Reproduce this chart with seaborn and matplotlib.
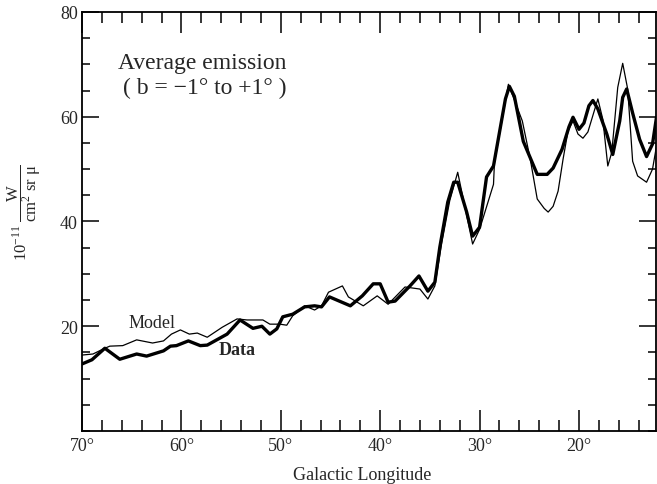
import matplotlib
matplotlib.use("Agg")
import matplotlib.pyplot as plt
import seaborn as sns
import pandas as pd
from matplotlib.ticker import MultipleLocator, FuncFormatter, FixedLocator

sns.set_theme(style="ticks")
plt.rcParams['font.family'] = ['Liberation Serif', 'DejaVu Serif']
plt.rcParams['mathtext.fontset'] = 'custom'
plt.rcParams['mathtext.rm'] = 'Liberation Serif'
plt.rcParams['mathtext.it'] = 'Liberation Serif:italic'

# Data (thick line)
data_lon = [70.0, 69.0, 67.7, 66.2, 64.5, 63.5, 61.8, 61.1, 60.5, 59.3, 58.1, 57.4,
            55.4, 54.1, 52.8, 51.9, 51.1, 50.4, 49.8, 48.8, 47.6, 46.6, 45.9, 45.1,
            43.0, 41.8, 40.7, 40.0, 39.2, 38.5, 37.0, 36.1, 35.2, 34.5, 34.0, 33.2,
            32.6, 32.2, 31.3, 30.7, 30.0, 29.3, 28.6, 27.4, 27.0, 26.5, 25.6, 24.2,
            23.2, 22.6, 21.7, 21.0, 20.6, 20.0, 19.5, 19.0, 18.6, 18.1, 17.2, 16.6,
            15.9, 15.6, 15.2, 14.6, 13.9, 13.2, 12.6, 12.2]
data_val = [12.8, 13.6, 15.8, 13.7, 14.7, 14.3, 15.3, 16.2, 16.3, 17.2, 16.3, 16.4,
            18.5, 21.2, 19.6, 20.0, 18.5, 19.5, 21.8, 22.3, 23.7, 23.9, 23.7, 25.6,
            23.9, 25.8, 28.1, 28.1, 24.6, 24.8, 27.7, 29.6, 26.7, 28.4, 35.1, 43.7,
            47.5, 47.5, 41.8, 37.2, 38.9, 48.5, 50.6, 63.4, 65.8, 63.9, 55.3, 49.0,
            49.0, 50.2, 53.8, 58.1, 59.9, 57.6, 58.8, 62.1, 63.1, 61.5, 56.7, 52.8,
            59.2, 63.7, 65.3, 60.7, 55.7, 52.4, 54.8, 59.9]

# Model (thin line)
model_lon = [70.0, 68.9, 67.7, 67.2, 65.9, 64.5, 62.9, 61.8, 61.0, 60.1, 59.2, 58.4,
             57.4, 55.9, 54.4, 53.4, 51.8, 51.1, 50.1, 49.4, 48.8, 47.6, 46.6, 45.9,
             45.2, 43.8, 43.2, 41.7, 40.3, 39.2, 37.5, 36.0, 35.2, 34.5, 33.8, 33.0,
             32.2, 30.7, 30.0, 28.6, 28.5, 27.1, 25.7, 24.9, 24.2, 23.5, 23.1, 22.6,
             22.1, 21.6, 21.1, 20.6, 20.1, 19.6, 19.1, 18.1, 17.6, 17.1, 16.7, 16.1,
             15.6, 15.1, 14.6, 14.1, 13.2, 12.6, 12.2]
model_val = [14.5, 14.7, 15.8, 16.2, 16.3, 17.4, 16.8, 17.2, 18.5, 19.3, 18.5, 18.7,
             17.9, 19.8, 21.4, 21.2, 21.2, 20.4, 20.4, 20.2, 22.0, 23.9, 23.1, 23.9,
             26.5, 27.7, 25.6, 23.9, 25.8, 24.2, 27.5, 27.1, 25.2, 27.7, 36.0, 44.0,
             49.4, 35.7, 38.5, 47.1, 51.3, 66.2, 59.2, 51.9, 44.3, 42.5, 41.8, 42.9,
             45.8, 51.9, 57.3, 59.2, 56.7, 55.9, 57.1, 63.4, 59.5, 50.6, 53.2, 65.6,
             70.2, 65.3, 51.5, 48.7, 47.5, 50.0, 54.4]

x_ticks = [70, 60, 50, 40, 30, 20]
y_ticks = [20, 40, 60, 80]

df_data = pd.DataFrame({"lon": data_lon, "val": data_val})
df_model = pd.DataFrame({"lon": model_lon, "val": model_val})

fig = plt.figure(figsize=(6.57, 4.85), dpi=100)
ax = fig.add_axes([82/657, 53/485, 574/657, 419/485])

sns.lineplot(data=df_model, x="lon", y="val", ax=ax, color="black", lw=0.9, sort=False)
sns.lineplot(data=df_data, x="lon", y="val", ax=ax, color="black", lw=2.4, sort=False)

ax.set_xlim(70, 12.25)
ax.set_ylim(0, 80)

ax.xaxis.set_major_locator(FixedLocator(x_ticks))
ax.xaxis.set_minor_locator(MultipleLocator(2))
ax.xaxis.set_major_formatter(FuncFormatter(lambda v, p: f"{int(round(v))}°"))
ax.yaxis.set_major_locator(FixedLocator(y_ticks))
ax.yaxis.set_minor_locator(MultipleLocator(5))

ax.tick_params(which="both", direction="in", top=True, right=True, color="black", width=1.1)
ax.tick_params(which="major", length=12, labelsize=13)
ax.tick_params(which="minor", length=6)
ax.tick_params(axis="x", which="major", length=15, pad=4)
ax.tick_params(axis="x", which="minor", length=8)
ax.tick_params(axis="y", which="major", pad=3)

for s in ax.spines.values():
    s.set_linewidth(1.3)
    s.set_color("black")

ax.set_xlabel("")
ax.set_ylabel("")
fig.text(362/657, 1 - 476/485, "Galactic Longitude", ha="center", va="center", fontsize=13)
fig.text(24/657, 1 - 213/485, r"$10^{-11}\ \dfrac{\mathrm{W}}{\mathrm{cm^{2}\ sr\ \mu}}$",
         rotation=90, ha="center", va="center", fontsize=12)

ax.text(0.21, 0.88, "Average emission", transform=ax.transAxes, ha="center", va="center", fontsize=17)
ax.text(0.213, 0.82, "( b = −1° to +1° )", transform=ax.transAxes, ha="center", va="center", fontsize=17)

ax.text(63.0, 20.7, "Model", ha="center", va="center", fontsize=13)
ax.text(54.4, 15.5, "Data", ha="center", va="center", fontsize=13, fontweight="bold")

fig.savefig("out.png", dpi=100, facecolor="white")
